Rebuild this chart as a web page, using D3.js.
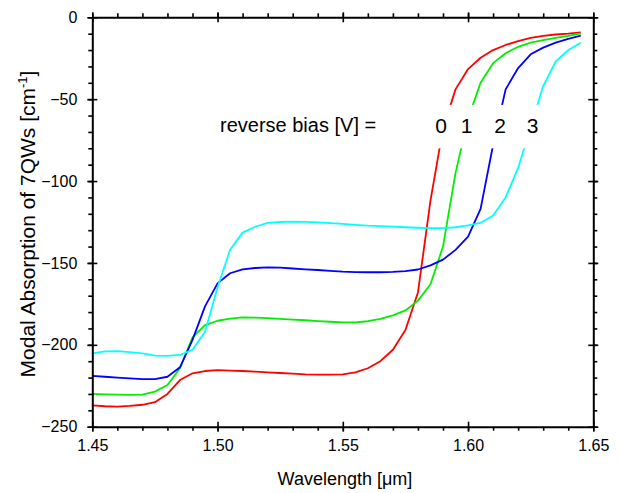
<!DOCTYPE html>
<html>
<head>
<meta charset="utf-8">
<script src="https://cdn.jsdelivr.net/npm/d3@7"></script>
<style>
  html, body { margin: 0; padding: 0; background: #fff; }
  svg { display: block; font-family: Arial, "Liberation Sans", sans-serif; }
</style>
</head>
<body>
<svg id="chart" width="621" height="493"></svg>
<script>
// Wavelength grid [µm]
const wavelength = [
  1.450, 1.455, 1.460, 1.465, 1.470, 1.475, 1.480, 1.485, 1.490, 1.495,
  1.500, 1.505, 1.510, 1.515, 1.520, 1.525, 1.530, 1.535, 1.540, 1.545,
  1.550, 1.555, 1.560, 1.565, 1.570, 1.575, 1.580, 1.585, 1.590, 1.595,
  1.600, 1.605, 1.610, 1.615, 1.620, 1.625, 1.630, 1.635, 1.640, 1.645
];

// Modal absorption [cm^-1] for each reverse bias
const bias0V = [
  -237, -237.5, -237.8, -237.3, -236.6, -235, -230, -221.5, -217.4, -216,
  -215.4, -215.7, -216, -216.4, -216.8, -217.2, -217.6, -218, -218.2, -218.2,
  -218, -216.8, -214.3, -210, -203, -191, -168, -112, -68, -44,
  -31.6, -24.7, -20, -16.9, -14.5, -12.5, -11.3, -10.5, -10, -9.2
];
const bias1V = [
  -230, -230.2, -230.4, -230.6, -230.4, -228.6, -224.5, -214.3, -195.5, -188,
  -185.3, -184, -183.3, -183.4, -183.7, -184.1, -184.6, -185, -185.5, -185.9,
  -186.3, -186.3, -185.6, -184.2, -182, -179, -173, -163, -140, -95,
  -62, -40, -28, -22, -18, -15.5, -13.9, -12.6, -11.4, -9.8
];
const bias2V = [
  -219, -219.5, -220, -220.5, -220.9, -220.9, -219.5, -213.7, -197, -176.5,
  -162.5, -156.3, -153.9, -153.1, -152.7, -152.9, -153.4, -153.9, -154.3, -154.8,
  -155.3, -155.6, -155.7, -155.7, -155.5, -155, -154, -151.5, -148, -142,
  -134, -117, -78, -44, -31, -22.6, -18.5, -15.5, -13.2, -11.2
];
const bias3V = [
  -205.2, -204, -203.8, -204.4, -205.2, -206.6, -206.8, -206.2, -203, -192,
  -165, -142, -131.5, -127.9, -125.5, -125, -124.8, -124.9, -125.2, -125.7,
  -126.2, -126.7, -127.2, -127.5, -127.8, -128.2, -128.5, -128.7, -128.7, -128.2,
  -127, -125.5, -121, -110, -92, -67, -42, -27, -20, -15.5
];

const biasLabels = ["0", "1", "2", "3"];
const seriesColors = ["#ff0000", "#00ee00", "#0000ff", "#00ffff"];
const seriesValues = [bias0V, bias1V, bias2V, bias3V];

// Axis ticks
const xMajorTicks = [1.45, 1.50, 1.55, 1.60, 1.65];
const yMajorTicks = [0, -50, -100, -150, -200, -250];

const svg = d3.select("#chart");
const plotLeft = 92.3, plotRight = 593.3, plotTop = 17.3, plotBottom = 426.7;

const x = d3.scaleLinear().domain([1.45, 1.65]).range([plotLeft, plotRight]);
const y = d3.scaleLinear().domain([-250, 0]).range([plotBottom, plotTop]);

const xMinor = d3.range(0, 21).map(i => 1.45 + i * 0.01);
const yMinor = d3.range(0, 26).map(i => -250 + i * 10);

// Curves
const line = d3.line()
  .x((d, i) => x(wavelength[i]))
  .y(d => y(d));

const curves = svg.append("g");
seriesValues.forEach((vals, k) => {
  curves.append("path")
    .datum(vals)
    .attr("d", line)
    .attr("fill", "none")
    .attr("stroke", seriesColors[k])
    .attr("stroke-width", 1.8)
    .attr("stroke-linejoin", "round");
});

// Inline bias annotation; its backing box interrupts the curves
svg.append("rect")
  .attr("x", 425).attr("y", y(-53.5))
  .attr("width", 140).attr("height", y(-80) - y(-53.5))
  .attr("fill", "#fff");

svg.append("text")
  .attr("x", 220).attr("y", 132)
  .attr("font-size", 20)
  .attr("fill", "#000")
  .text("reverse bias [V] =");

const labelX = [441, 466.5, 500, 532.5];
biasLabels.forEach((t, k) => {
  svg.append("text")
    .attr("x", labelX[k]).attr("y", 133)
    .attr("text-anchor", "middle")
    .attr("font-size", 21)
    .attr("fill", "#000")
    .text(t);
});

// Axes: outward minor ticks, major ticks crossing the frame
function styleAxis(g) {
  g.selectAll("path.domain").attr("stroke", "#000").attr("stroke-width", 2);
  g.selectAll(".tick line").attr("stroke", "#000").attr("stroke-width", 1.6);
  g.selectAll(".tick text").attr("fill", "#000");
}

function frameAxis(axisFn, scale, minor, major, transform, labels, pad) {
  const gMinor = svg.append("g").attr("transform", transform)
    .call(axisFn(scale).tickValues(minor).tickSize(4).tickSizeOuter(0).tickFormat(""));
  styleAxis(gMinor);
  const gIn = svg.append("g").attr("transform", transform)
    .call(axisFn(scale).tickValues(major).tickSize(-5).tickSizeOuter(0).tickFormat(""));
  styleAxis(gIn);
  gIn.select("path.domain").remove();
  const gOut = svg.append("g").attr("transform", transform)
    .call(axisFn(scale).tickValues(major).tickSize(5).tickSizeOuter(0)
      .tickPadding(pad)
      .tickFormat(labels ? labels : ""));
  styleAxis(gOut);
  gOut.select("path.domain").remove();
  gOut.selectAll(".tick text").attr("font-size", 16).attr("font-family", "Arial, 'Liberation Sans', sans-serif");
  return gOut;
}

frameAxis(d3.axisBottom, x, xMinor, xMajorTicks,
  `translate(0,${plotBottom})`, d3.format(".2f"), 8);
frameAxis(d3.axisTop, x, xMinor, xMajorTicks,
  `translate(0,${plotTop})`, null, 3);
frameAxis(d3.axisLeft, y, yMinor, yMajorTicks,
  `translate(${plotLeft},0)`, d3.format("d"), 10);
frameAxis(d3.axisRight, y, yMinor, yMajorTicks,
  `translate(${plotRight},0)`, null, 3);

// Axis titles
svg.append("text")
  .attr("x", 345).attr("y", 485)
  .attr("text-anchor", "middle")
  .attr("font-size", 18)
  .attr("fill", "#000")
  .text("Wavelength [μm]");

const yTitle = svg.append("text")
  .attr("transform", `translate(35,${(plotTop + plotBottom) / 2 + 2}) rotate(-90)`)
  .attr("text-anchor", "middle")
  .attr("font-size", 21)
  .attr("fill", "#000");
yTitle.append("tspan").text("Modal Absorption of 7QWs [cm");
yTitle.append("tspan").attr("font-size", 13).attr("dy", -8).text("-1");
yTitle.append("tspan").attr("dy", 8).text("]");
</script>
</body>
</html>
